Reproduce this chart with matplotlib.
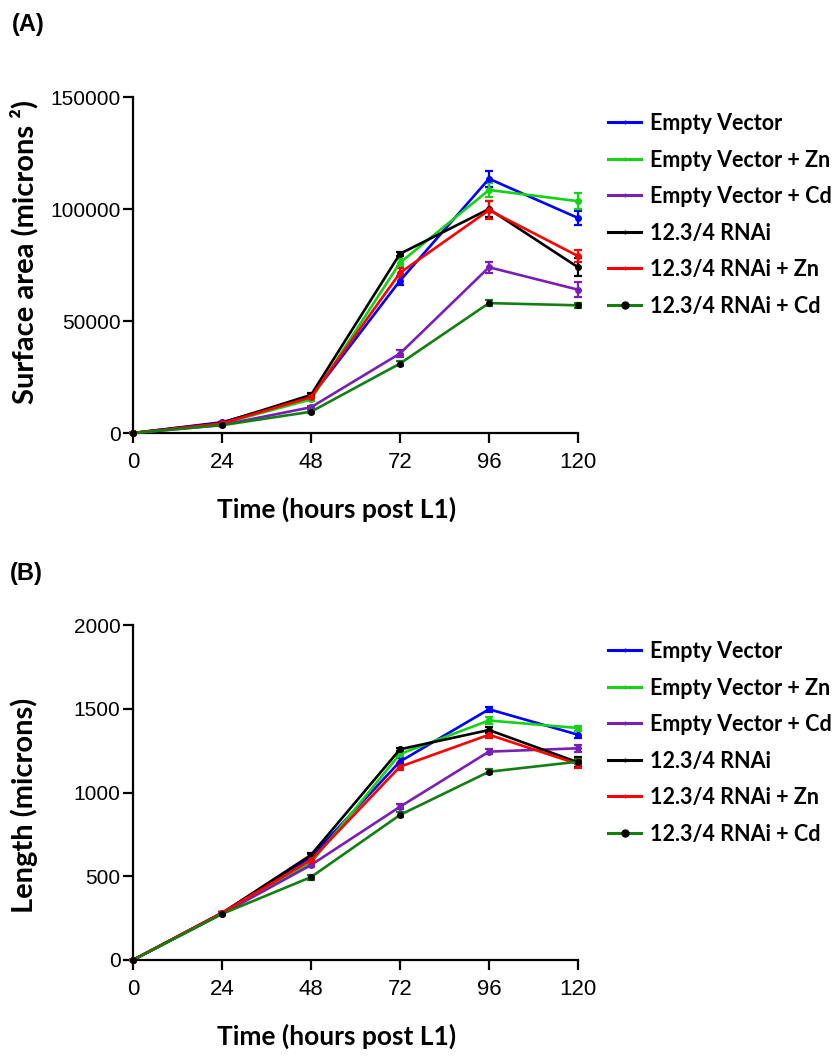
import matplotlib
matplotlib.use("Agg")
import matplotlib.pyplot as plt
from matplotlib.lines import Line2D

# ---- data -------------------------------------------------------------
hours = [0, 24, 48, 72, 96, 120]
hour_ticks = [0, 24, 48, 72, 96, 120]

labels = ["Empty Vector", "Empty Vector + Zn", "Empty Vector + Cd",
          "12.3/4 RNAi", "12.3/4 RNAi + Zn", "12.3/4 RNAi + Cd"]

# Surface area (microns^2), mean and SEM
area_ev = [0, 4800, 16000, 68000, 113500, 96000]
area_ev_sem = [0, 300, 800, 2000, 3500, 3000]
area_ev_zn = [0, 4200, 15000, 76000, 108500, 103500]
area_ev_zn_sem = [0, 300, 800, 1500, 3000, 3500]
area_ev_cd = [0, 3600, 11500, 35500, 74000, 64000]
area_ev_cd_sem = [0, 300, 600, 1500, 2500, 3500]
area_rnai = [0, 4500, 17000, 80000, 100000, 74000]
area_rnai_sem = [0, 300, 800, 1000, 3500, 4000]
area_rnai_zn = [0, 4300, 16000, 71500, 99500, 79000]
area_rnai_zn_sem = [0, 300, 800, 2000, 4000, 2500]
area_rnai_cd = [0, 3500, 9500, 31000, 58000, 57000]
area_rnai_cd_sem = [0, 200, 500, 1000, 1500, 1200]
area_ticks = [0, 50000, 100000, 150000]

# Length (microns), mean and SEM
len_ev = [0, 280, 615, 1185, 1497, 1345]
len_ev_sem = [0, 5, 15, 20, 15, 20]
len_ev_zn = [0, 280, 580, 1230, 1430, 1385]
len_ev_zn_sem = [0, 5, 15, 15, 20, 15]
len_ev_cd = [0, 275, 567, 915, 1244, 1264]
len_ev_cd_sem = [0, 5, 10, 15, 15, 20]
len_rnai = [0, 280, 627, 1258, 1373, 1180]
len_rnai_sem = [0, 5, 10, 10, 20, 30]
len_rnai_zn = [0, 282, 597, 1154, 1345, 1170]
len_rnai_zn_sem = [0, 5, 15, 20, 20, 25]
len_rnai_cd = [0, 275, 495, 866, 1124, 1184]
len_rnai_cd_sem = [0, 5, 15, 15, 15, 15]
length_ticks = [0, 500, 1000, 1500, 2000]

colors = ["#0000ff", "#14d214", "#7a1fb5", "#000000", "#ff0000", "#137f13"]
marker_faces = ["#0000ff", "#14d214", "#7a1fb5", "#000000", "#ff0000", "#000000"]

area_means = [area_ev, area_ev_zn, area_ev_cd, area_rnai, area_rnai_zn, area_rnai_cd]
area_sems = [area_ev_sem, area_ev_zn_sem, area_ev_cd_sem, area_rnai_sem,
             area_rnai_zn_sem, area_rnai_cd_sem]
len_means = [len_ev, len_ev_zn, len_ev_cd, len_rnai, len_rnai_zn, len_rnai_cd]
len_sems = [len_ev_sem, len_ev_zn_sem, len_ev_cd_sem, len_rnai_sem,
            len_rnai_zn_sem, len_rnai_cd_sem]

# ---- style ------------------------------------------------------------
TICK_FONT = "Liberation Sans"
LABEL_FONT = "Lato"

fig = plt.figure(figsize=(8.39, 10.59), dpi=100)
ax_a = fig.add_axes([0.1585, 0.5911, 0.5304, 0.3173])
ax_b = fig.add_axes([0.1585, 0.0935, 0.5304, 0.3163])


def draw_panel(ax, means, sems, yticks, ylabel, ylabel_y):
    for m, s, c, mf in zip(means, sems, colors, marker_faces):
        ax.errorbar(hours, m, yerr=s, color=c, lw=1.9, elinewidth=1.6,
                    capsize=3, capthick=1.6, marker="o", markersize=4,
                    markerfacecolor=mf, markeredgecolor=mf, clip_on=False,
                    zorder=3)
    ax.set_xlim(0, 120)
    ax.set_ylim(yticks[0], yticks[-1])
    ax.set_xticks(hour_ticks)
    ax.set_yticks(yticks)
    for side in ("top", "right"):
        ax.spines[side].set_visible(False)
    for side in ("left", "bottom"):
        ax.spines[side].set_linewidth(1.6)
    ax.tick_params(direction="out", length=7, width=1.6)
    ax.tick_params(axis="x", pad=6.5, labelsize=16)
    ax.tick_params(axis="y", pad=2, labelsize=15)
    for t in ax.get_xticklabels() + ax.get_yticklabels():
        t.set_fontfamily(TICK_FONT)
    ax.set_xlabel("Time (hours post L1)", fontsize=19, fontweight="bold",
                  family=LABEL_FONT)
    ax.xaxis.set_label_coords(0.458, -0.19)
    ax.set_ylabel(ylabel, fontsize=21, fontweight="bold", family=LABEL_FONT)
    ax.yaxis.set_label_coords(-0.213, ylabel_y)

    handles = []
    for i, (c, mf) in enumerate(zip(colors, marker_faces)):
        mk = "o" if i == len(colors) - 1 else "|"
        handles.append(Line2D([], [], color=c, lw=2.2, marker=mk,
                              markersize=5 if mk == "o" else 3,
                              markerfacecolor=mf, markeredgecolor=mf))
    ax.legend(handles, labels, loc="upper left",
              bbox_to_anchor=(1.049, 0.978),
              frameon=False, handlelength=1.53, handletextpad=0.42,
              labelspacing=0.72, borderaxespad=0.0,
              prop={"family": LABEL_FONT, "weight": "bold", "size": 15.5})


draw_panel(ax_a, area_means, area_sems, area_ticks,
           "Surface area (microns \u00b2)", 0.539)
draw_panel(ax_b, len_means, len_sems, length_ticks,
           "Length (microns)", 0.463)

fig.text(0.014, 0.988, "(A)", fontsize=17, fontweight="bold",
         family=TICK_FONT, va="top", ha="left")
fig.text(0.012, 0.469, "(B)", fontsize=17, fontweight="bold",
         family=TICK_FONT, va="top", ha="left")

fig.savefig("out.png", dpi=100)
